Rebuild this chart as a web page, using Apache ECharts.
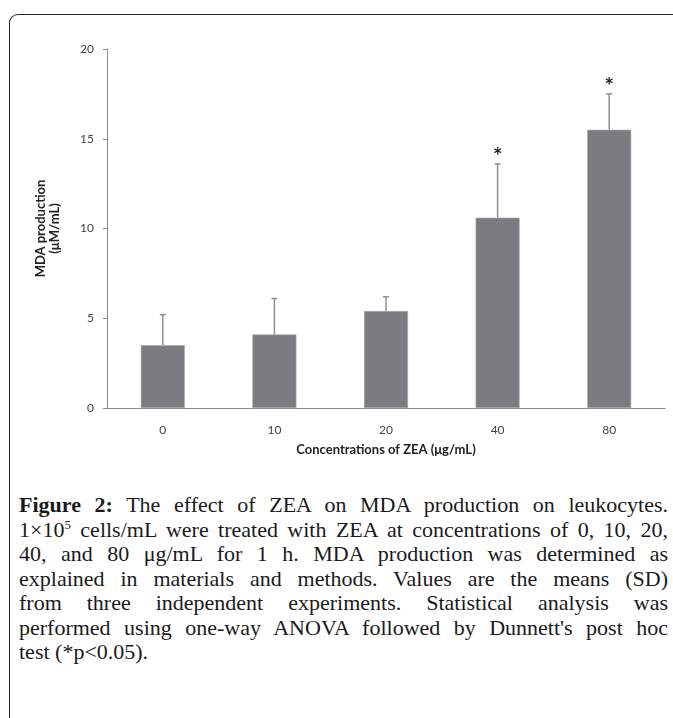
<!DOCTYPE html>
<html>
<head>
<meta charset="utf-8">
<script src="https://cdn.jsdelivr.net/npm/echarts@6/dist/echarts.min.js"></script>
<style>
html, body { margin: 0; padding: 0; background: #fff; }
#wrap { position: relative; width: 673px; height: 718px; overflow: hidden; background: #fff; }
#frame { position: absolute; left: 9px; top: 14px; width: 720px; height: 760px;
  border-left: 1.5px solid #222; border-top: 1.5px solid #222; border-top-left-radius: 9px; }
#chart { position: absolute; left: 0; top: 0; width: 673px; height: 480px; }
#caption { position: absolute; left: 19px; top: 493px; width: 649px;
  font-family: "Liberation Serif", serif; font-size: 22px; line-height: 24.5px; color: #1a1a1a; }
#caption .ln { text-align: justify; text-align-last: justify; white-space: nowrap; }
#caption .ln.last { text-align: left; text-align-last: left; }
#caption sup { font-size: 13px; line-height: 0; vertical-align: 8px; }
</style>
</head>
<body>
<div id="wrap">
  <div id="frame"></div>
  <div id="chart"></div>
  <div id="caption">
    <div class="ln"><b>Figure 2:</b> The effect of ZEA on MDA production on leukocytes.</div>
    <div class="ln">1×10<sup>5</sup> cells/mL were treated with ZEA at concentrations of 0, 10, 20,</div>
    <div class="ln">40, and 80 μg/mL for 1 h. MDA production was determined as</div>
    <div class="ln">explained in materials and methods. Values are the means (SD)</div>
    <div class="ln">from three independent experiments. Statistical analysis was</div>
    <div class="ln">performed using one-way ANOVA followed by Dunnett's post hoc</div>
    <div class="ln last">test (*p&lt;0.05).</div>
  </div>
</div>
<script>
// ---- data ----
const categories = ['0', '10', '20', '40', '80'];
const meanValues = [3.5, 4.1, 5.4, 10.6, 15.5];
const sdValues = [1.7, 2.0, 0.8, 3.0, 2.0];
const significance = ['', '', '', '*', '*'];
const yAxisMin = 0;
const yAxisMax = 20;
const yAxisStep = 5;
const xAxisTitle = 'Concentrations of ZEA (μg/mL)';
const yAxisTitle = 'MDA production\n(μM/mL)';

// ---- chart ----
const errorData = categories.map(function (c, i) { return [i, meanValues[i], sdValues[i]]; });

const chart = echarts.init(document.getElementById('chart'), null, { renderer: 'canvas' });
const fontFamily = 'Lato, "Open Sans", sans-serif';
chart.setOption({
  animation: false,
  backgroundColor: 'transparent',
  grid: { left: 107, right: 8, top: 49, bottom: 72, containLabel: false },
  xAxis: {
    type: 'category',
    data: categories,
    axisLine: { show: true, lineStyle: { color: '#8c8c8c', width: 1 } },
    axisTick: { show: false },
    axisLabel: { margin: 16, color: '#444', fontSize: 12, fontFamily: fontFamily },
    name: xAxisTitle,
    nameLocation: 'middle',
    nameGap: 35,
    nameTextStyle: { color: '#222', fontSize: 13, fontWeight: 'bold', fontFamily: fontFamily }
  },
  yAxis: {
    type: 'value',
    min: yAxisMin,
    max: yAxisMax,
    interval: yAxisStep,
    axisLine: { show: true, lineStyle: { color: '#8c8c8c', width: 1 } },
    axisTick: { show: true, inside: false, length: 4, lineStyle: { color: '#8c8c8c' } },
    splitLine: { show: false },
    axisLabel: { margin: 13, color: '#444', fontSize: 12, fontFamily: fontFamily },
    name: yAxisTitle,
    nameLocation: 'middle',
    nameGap: 45,
    nameTextStyle: { color: '#222', fontSize: 13, fontWeight: 'bold', lineHeight: 14, fontFamily: fontFamily, align: 'center' }
  },
  series: [
    {
      type: 'bar',
      data: meanValues,
      barWidth: 44,
      itemStyle: { color: '#7b7c80', borderColor: '#a9aaad', borderWidth: 0.6 },
      z: 2
    },
    {
      type: 'custom',
      data: errorData,
      z: 3,
      renderItem: function (params, api) {
        const idx = api.value(0);
        const mean = api.value(1);
        const sd = api.value(2);
        const sig = significance[idx];
        const base = api.coord([idx, mean]);
        const top = api.coord([idx, mean + sd]);
        const capHalf = 3;
        const children = [
          { type: 'line', shape: { x1: base[0], y1: base[1], x2: top[0], y2: top[1] },
            style: { stroke: '#8f8f8f', lineWidth: 1.5 } },
          { type: 'line', shape: { x1: top[0] - capHalf, y1: top[1], x2: top[0] + capHalf, y2: top[1] },
            style: { stroke: '#8f8f8f', lineWidth: 1.5 } }
        ];
        if (sig) {
          children.push({ type: 'text', x: top[0], y: top[1] - 16,
            style: { text: sig, fill: '#222', font: 'bold 15px "DejaVu Sans", sans-serif', align: 'center', verticalAlign: 'top' } });
        }
        return { type: 'group', children: children };
      }
    }
  ]
});
</script>
</body>
</html>
